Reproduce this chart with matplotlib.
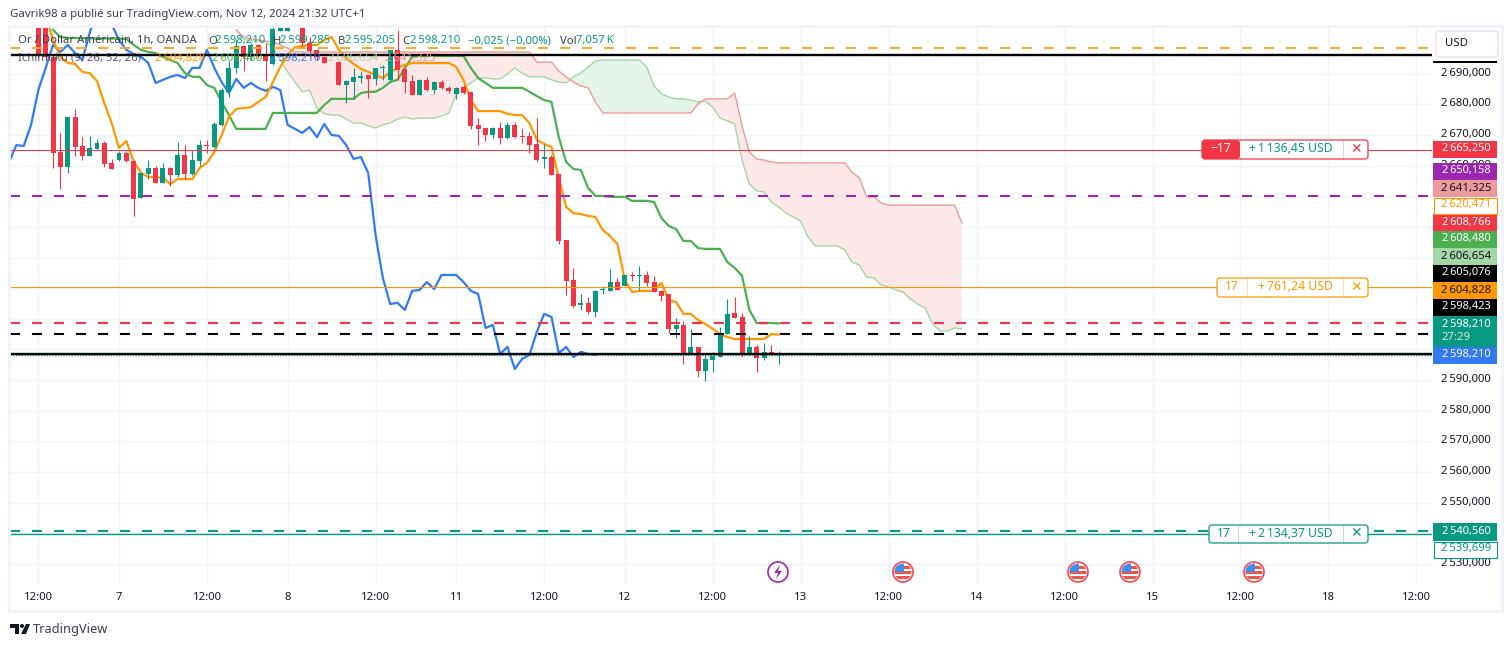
import numpy as np
import matplotlib
matplotlib.use("Agg")
import matplotlib.pyplot as plt
from matplotlib.patches import Rectangle, Circle, Polygon, FancyBboxPatch
from matplotlib.transforms import ScaledTranslation

plt.rcParams['font.family'] = ['Noto Sans', 'DejaVu Sans']
plt.rcParams['lines.scale_dashes'] = False

# bougies 1h, premiere bougie visible = index 4
candle_start = 4
opens = [2708, 2708, 2695.5, 2664.4, 2659.5, 2675.9, 2666.4, 2663.1, 2665.4, 2667.4, 2660.9, 2661.8, 2664.1, 2661.5,
         2649.4, 2657.3, 2659.2, 2654.3, 2659.2, 2657.0, 2663.5, 2657.3, 2661.5, 2666.7, 2666.1, 2673.3, 2684.1, 2691.9,
         2699.1, 2695.5, 2699.4, 2696.1, 2693.2, 2704.0, 2704.0, np.nan, 2708, 2700.0, 2697.8, 2695.5, np.nan, 2693.8,
         2686.3, 2687.3, 2688.6, 2689.6, 2688.3, 2692.0, 2688.0, 2697.8, 2691.6, 2687.6, 2683.1, 2688.0, 2684.7, 2687.3,
         2685.4, 2683.4, 2685.7, 2684.1, 2673.3, 2672.3, 2670.0, 2672.3, 2669.0, 2673.3, 2669.5, 2669.7, 2667.1, 2662.2,
         2662.8, 2657.3, 2635.7, 2622.7, 2614.5, 2615.2, 2612.2, 2619.4, 2619.1, 2622.0, 2620.7, 2624.3, 2624.1, 2624.3,
         2622.0, 2619.1, 2618.1, 2606.7, 2608.0, 2598.2, 2600.8, 2592.9, 2596.5, 2597.5, 2605.0, 2611.9, 2610.6, 2598.2,
         2600.8, 2597.2, 2599.2, 2598.1]
highs = [2710, 2710, 2696, 2670.7, 2675.9, 2678.5, 2669.3, 2669.7, 2668.7, 2668.1, 2662.2, 2664.8, 2664.8, 2661.8,
         2657.6, 2661.8, 2659.9, 2660.9, 2659.5, 2667.7, 2666.7, 2665.1, 2668.4, 2668.4, 2674.2, 2685.4, 2694.2, 2701.0,
         2699.4, 2700.0, 2699.7, 2700.0, 2705.3, 2706, 2706, np.nan, 2710, 2702, 2698, 2695.5, np.nan, 2694.2,
         2688.0, 2691.9, 2690.9, 2689.6, 2691.9, 2692.9, 2697.8, 2704.3, 2691.9, 2689.6, 2688.3, 2689.0, 2687.6, 2688.0,
         2686.0, 2685.7, 2686.3, 2684.4, 2675.6, 2672.3, 2672.6, 2674.2, 2674.2, 2674.2, 2672.0, 2671.0, 2675.6, 2667.1,
         2663.5, 2657.3, 2635.7, 2626.6, 2618.1, 2617.1, 2619.4, 2620.7, 2626.2, 2623.3, 2624.3, 2625.3, 2627.2, 2625.6,
         2624.0, 2619.1, 2618.1, 2610.2, 2609.3, 2606.7, 2600.8, 2598.8, 2599.2, 2607.3, 2616.4, 2617.1, 2611.9, 2604.4,
         2601.4, 2602.1, 2601.4, 2599.5]
lows = [2695, 2695, 2659.3, 2652.4, 2657.6, 2663.1, 2661.8, 2663.1, 2665.4, 2659.5, 2658.9, 2661.5, 2661.2, 2643.6,
        2649.4, 2655.6, 2654.3, 2654.3, 2653.3, 2656.3, 2655.6, 2657.0, 2659.9, 2664.1, 2665.8, 2673.0, 2682.4, 2690.2,
        2690.9, 2694.5, 2695.1, 2687.6, 2692.9, 2703.8, 2703.8, np.nan, 2699, 2695.5, 2694.5, 2693.5, np.nan, 2686.3,
        2680.4, 2681.8, 2687.0, 2682.1, 2686.3, 2688.0, 2687.6, 2688.0, 2683.7, 2683.1, 2683.1, 2684.4, 2683.4, 2685.0,
        2683.7, 2681.8, 2683.4, 2672.0, 2666.7, 2668.0, 2669.0, 2667.1, 2668.7, 2669.0, 2667.4, 2664.1, 2661.2, 2659.2,
        2657.0, 2634.4, 2617.8, 2613.5, 2612.9, 2611.6, 2610.6, 2618.1, 2619.1, 2619.4, 2620.7, 2622.3, 2619.4, 2620.7,
        2618.7, 2615.8, 2605.4, 2603.7, 2595.2, 2598.2, 2591.0, 2589.7, 2592.6, 2597.5, 2605.0, 2610.2, 2597.5, 2598.2,
        2592.6, 2596.5, 2598.2, 2595.2]
closes = [2696.1, 2695.5, 2664.2, 2659.5, 2675.9, 2666.2, 2663.1, 2665.8, 2667.4, 2660.5, 2658.9, 2664.1, 2661.5, 2649.1,
          2657.6, 2659.2, 2654.3, 2659.2, 2657.0, 2663.5, 2657.3, 2661.8, 2666.7, 2666.4, 2673.6, 2684.7, 2691.9, 2699.1,
          2695.5, 2699.4, 2696.4, 2694.2, 2704.6, 2707, 2707, np.nan, 2700.0, 2697.4, 2695.5, 2693.5, np.nan, 2686.3,
          2687.6, 2689.0, 2689.3, 2688.3, 2691.9, 2692.2, 2697.8, 2691.2, 2687.3, 2683.1, 2688.0, 2684.7, 2687.3, 2685.4,
          2684.4, 2685.4, 2683.7, 2673.0, 2672.0, 2670.0, 2672.3, 2669.0, 2673.3, 2669.3, 2669.3, 2666.7, 2661.8, 2662.8,
          2657.0, 2635.4, 2622.3, 2614.2, 2615.2, 2612.2, 2619.1, 2619.7, 2622.0, 2619.4, 2624.3, 2624.1, 2624.3, 2621.7,
          2618.7, 2617.4, 2606.7, 2608.0, 2598.2, 2600.8, 2592.9, 2596.9, 2597.8, 2605.4, 2611.6, 2610.2, 2598.2, 2600.8,
          2597.2, 2599.2, 2598.2, 2598.21]

# ichimoku
tenkan_start = 5
tenkan = [2709.2, 2701.0, 2695.5, 2693.5, 2693.2, 2690.6, 2690.2, 2687.6, 2680.4, 2673.9, 2665.8, 2668.0, 2661.5, 2657.6,
          2656.3, 2656.3, 2656.0, 2654.0, 2655.6, 2655.6, 2655.6, 2659.2, 2660.9, 2664.4, 2670.0, 2675.9, 2678.5, 2678.8,
          2679.1, 2680.8, 2682.4, 2687.3, 2692.2, 2696.1, 2698.7, 2699.1, 2699.4, 2699.4, 2701.0, 2702.0, 2697.8, 2695.1,
          2693.2, 2691.6, 2690.6, 2689.6, 2688.6, 2690.6, 2691.9, 2692.9, 2693.5, 2693.5, 2693.5, 2693.5, 2693.5, 2693.5,
          2692.2, 2688.0, 2681.4, 2677.8, 2677.8, 2677.8, 2677.8, 2676.9, 2676.5, 2676.5, 2673.9, 2668.4, 2667.1, 2666.1,
          2656.0, 2646.5, 2644.5, 2644.2, 2643.6, 2643.2, 2639.0, 2637.0, 2634.4, 2622.7, 2618.7, 2619.1, 2619.1, 2619.1,
          2621.7, 2616.1, 2615.5, 2611.6, 2611.6, 2609.6, 2608.3, 2606.7, 2605.0, 2604.0, 2603.4, 2603.4, 2603.4, 2603.4,
          2603.4, 2605.0, 2604.828]

kijun_start = 6
kijun = [2704.3, 2702.0, 2701.7, 2701.7, 2701.6, 2701.6, 2701.5, 2701.5, 2701.5, 2701.4, 2701.4, 2699.4, 2697.8, 2697.1,
         2696.8, 2695.5, 2694.5, 2693.5, 2690.2, 2689.0, 2689.0, 2686.3, 2685.4, 2680.8, 2676.5, 2672.0, 2672.0, 2672.0,
         2672.0, 2672.0, 2677.2, 2677.2, 2677.2, 2677.2, 2677.2, 2677.2, 2677.2, 2679.8, 2681.8, 2681.8, 2681.8, 2681.8,
         2683.7, 2684.1, 2684.1, 2685.4, 2687.3, 2688.0, 2691.9, 2695.5, 2695.8, 2695.8, 2695.8, 2695.8, 2695.8, 2695.8,
         2695.8, 2691.9, 2688.6, 2687.0, 2685.4, 2685.4, 2685.4, 2685.4, 2685.4, 2684.1, 2682.7, 2681.4, 2680.8, 2669.3,
         2661.2, 2658.9, 2658.6, 2652.7, 2650.1, 2650.1, 2649.8, 2649.8, 2649.8, 2648.5, 2648.5, 2648.5, 2648.1, 2642.9,
         2640.3, 2639.3, 2635.4, 2635.4, 2633.1, 2632.8, 2632.8, 2632.8, 2628.5, 2626.6, 2624.0, 2612.9, 2608.6, 2608.6,
         2608.6, 2608.48]

chikou_start = 0
chikou = [2661.2, 2666.7, 2666.4, 2673.3, 2684.7, 2691.9, 2699.4, 2697.1, 2699.4, 2696.8, 2694.5, 2703.3, 2710.8, 2710.8,
          2706.2, 2701.0, 2697.8, 2696.4, 2695.5, 2693.5, 2687.0, 2688.0, 2689.0, 2689.6, 2688.6, 2691.9, 2691.9, 2697.8,
          2691.9, 2687.3, 2683.7, 2688.3, 2685.4, 2687.0, 2685.4, 2684.4, 2685.7, 2684.7, 2673.3, 2672.0, 2670.7, 2672.6,
          2669.3, 2673.6, 2670.0, 2669.7, 2666.7, 2662.2, 2662.8, 2657.6, 2637.4, 2623.3, 2614.8, 2615.2, 2612.9, 2619.1,
          2619.4, 2622.0, 2619.7, 2624.3, 2624.3, 2624.3, 2622.0, 2619.1, 2618.1, 2607.0, 2608.0, 2598.5, 2600.8, 2593.6,
          2596.9, 2598.2, 2605.7, 2611.6, 2610.6, 2598.8, 2600.8, 2597.5, 2599.2, 2598.5, 2598.21]

span_start = 31
span_a = [2704.3, 2701.3, 2700.7, 2700.7, 2700.4, 2698.4, 2694.5, 2690.6, 2687.3, 2684.1, 2684.7, 2678.8, 2676.9, 2676.5,
          2676.5, 2675.2, 2673.9, 2673.9, 2673.0, 2672.3, 2673.3, 2673.9, 2675.2, 2675.9, 2675.2, 2675.5, 2675.5, 2675.5,
          2676.2, 2677.2, 2683.1, 2685.4, 2687.0, 2688.6, 2688.6, 2688.3, 2688.3, 2689.9, 2691.9, 2690.2, 2689.0, 2689.0,
          2689.0, 2688.0, 2687.3, 2687.0, 2689.0, 2690.2, 2692.2, 2694.2, 2694.5, 2694.5, 2694.5, 2694.5, 2694.5, 2694.5,
          2692.2, 2686.0, 2683.4, 2682.4, 2681.8, 2681.8, 2681.4, 2680.8, 2681.1, 2679.1, 2675.5, 2674.6, 2673.6, 2661.8,
          2654.0, 2651.7, 2651.4, 2648.1, 2646.5, 2644.5, 2643.2, 2641.9, 2636.7, 2633.8, 2633.8, 2633.8, 2633.8, 2632.5,
          2628.5, 2627.6, 2623.6, 2623.3, 2621.0, 2620.4, 2619.4, 2618.7, 2616.4, 2614.8, 2613.5, 2608.3, 2606.0, 2606.0,
          2607.0, 2606.654]
span_b = [2704.3, 2702.0, 2701.4, 2701.0, 2700.7, 2700.4, 2699.4, 2698.4] + [2697.1] * 33 + [
          2693.8, 2693.8, 2693.8, 2690.9, 2689.0, 2687.3, 2686.0, 2685.4, 2680.8] + [2677.2] * 13 + [
          2680.1, 2681.8, 2681.8, 2681.8, 2681.8, 2683.7, 2673.0, 2664.4, 2662.2, 2661.8, 2661.2] + [2660.9] * 10 + [
          2657.9, 2656.0, 2649.8, 2649.8, 2647.8] + [2647.1] * 10 + [2641.325]

# niveaux horizontaux
orange_top = 2698.4
black_top = 2696.1
purple_level = 2650.158
short_entry = 2665.250
long_entry = 2620.471
red_level = 2608.766
black_mid = 2605.076
black_low = 2598.423
last_close = 2598.210
target_dash = 2540.560
target_solid = 2539.699

# axes
x_tick_pos = [4, 15, 27, 38, 50, 61, 73, 84, 96, 108, 120, 132, 144, 156, 168, 180, 192]
x_tick_labels = ['12:00', '7', '12:00', '8', '12:00', '11', '12:00', '12', '12:00', '13',
                 '12:00', '14', '12:00', '15', '12:00', '18', '12:00']
y_ticks = list(range(2530, 2700, 10))
# ces graduations restent sous les etiquettes de prix
y_hidden = [2540, 2600, 2610, 2620, 2630, 2640, 2650]

GREEN = '#089981'
RED = '#f23645'
ORANGE = '#ff9800'
KIJUN = '#4caf50'
BLUE = '#3179f5'
PURPLE = '#9c27b0'
INK = '#131722'
GRID = '#f0f3fa'
FS = 8.15

fig = plt.figure(figsize=(15.12, 6.47), dpi=100)
ax = fig.add_axes([10 / 1512, (647 - 584) / 647, 1422 / 1512, 557 / 647])
ax.set_xlim(0.13, 194.13)
ax.set_ylim(2523.4, 2705.26)
for s in ax.spines.values():
    s.set_visible(False)


def fr_price(v):
    return f"2\u2009{v - 2000:03.0f},000"


ax.yaxis.tick_right()
ax.set_yticks(y_ticks)
ax.set_yticklabels(['' if v in y_hidden else fr_price(v) for v in y_ticks], fontsize=FS, color=INK)
ax.set_xticks(x_tick_pos)
ax.set_xticklabels(x_tick_labels, fontsize=FS, color=INK)
ax.tick_params(axis='both', length=0)
ax.tick_params(axis='y', pad=6.5)
ax.tick_params(axis='x', pad=6)
ax.grid(True, color=GRID, lw=1)
ax.set_axisbelow(True)
# les libelles de prix sont 2 px au-dessus de la grille
up = ScaledTranslation(0, 1.44 / 72, fig.dpi_scale_trans)
for lab in ax.get_yticklabels():
    lab.set_transform(lab.get_transform() + up)

# nuage
xs = np.arange(span_start, span_start + len(span_a))
a = np.array(span_a)
b = np.array(span_b)
ax.fill_between(xs, a, b, where=a >= b, interpolate=True, color='#e6f3e8', lw=0, zorder=1)
ax.fill_between(xs, a, b, where=a < b, interpolate=True, color='#fce8e8', lw=0, zorder=1)
ax.plot(xs, a, color='#a5d6a7', lw=1, zorder=2)
ax.plot(xs, b, color='#ef9a9a', lw=1, zorder=2)

# lignes ichimoku
ax.plot(np.arange(chikou_start, chikou_start + len(chikou)), chikou, color=BLUE, lw=1.6, zorder=3)
ax.plot(np.arange(kijun_start, kijun_start + len(kijun)), kijun, color=KIJUN, lw=1.6, zorder=3)
ax.plot(np.arange(tenkan_start, tenkan_start + len(tenkan)), tenkan, color=ORANGE, lw=1.6, zorder=3)

# bougies
o = np.array(opens)
h = np.array(highs)
l = np.array(lows)
c = np.array(closes)
ix = np.arange(candle_start, candle_start + len(o))
ok = ~np.isnan(o)
cols = np.where(c >= o, GREEN, RED)
ax.vlines(ix[ok], l[ok], h[ok], colors=cols[ok], lw=0.8, zorder=4)
ax.bar(ix[ok], np.maximum(np.abs(c - o)[ok], 0.35), bottom=np.minimum(o, c)[ok], width=0.68,
       color=cols[ok], lw=0, zorder=4)

# niveaux
dash = (0, (7.2, 8.64))
ax.axhline(orange_top, color='#ffa726', lw=1.5, ls=dash, zorder=5)
ax.axhline(black_top, color='black', lw=1.7, zorder=5)
ax.axhline(purple_level, color=PURPLE, lw=1.5, ls=dash, zorder=5)
ax.axhline(short_entry, color=RED, lw=0.75, zorder=5)
ax.axhline(long_entry, color=ORANGE, lw=0.75, zorder=5)
ax.axhline(red_level, color=RED, lw=1.5, ls=dash, zorder=5)
ax.axhline(black_mid, color='black', lw=1.5, ls=dash, zorder=5)
ax.axhline(last_close, color=GREEN, lw=0.8, ls=(0, (1, 1)), zorder=5)
ax.axhline(black_low, color='black', lw=1.7, zorder=5)
ax.axhline(target_dash, color=GREEN, lw=1.5, ls=dash, zorder=5)
ax.axhline(target_solid, color=GREEN, lw=1, zorder=5)

# couche en pixels pour l'interface : entete, etiquettes, icones
ov = fig.add_axes([0, 0, 1, 1])
ov.set_xlim(0, 1512)
ov.set_ylim(647, 0)
ov.axis('off')
ov.patch.set_alpha(0)
ov.add_patch(Rectangle((9, 26), 1493, 585, fill=False, ec=GRID, lw=2))

ov.text(10, 15, 'Gavrik98 a publié sur TradingView.com, Nov 12, 2024 21:32 UTC+1', fontsize=8.2,
        color='#3a3e4a', va='center')
ov.text(18, 41, 'Or / Dollar Américain, 1h, OANDA', fontsize=FS, color='#3a3e4a', va='center')
for x0, t in [(208, 'O'), (273, 'H'), (338, 'B'), (402, 'C'), (560, 'Vol')]:
    ov.text(x0, 41, t, fontsize=FS, color='#3a3e4a', va='center')
for x0, t in [(215, '2\u2009598,210'), (280, '2\u2009599,285'), (345, '2\u2009595,205'), (410, '2\u2009598,210'),
              (468, '\u22120,025 (\u22120,00%)'), (576, '7,057\u2009K')]:
    ov.text(x0, 41, t, fontsize=FS, color=GREEN, va='center')
ov.text(18, 58, 'Ichimoku (9, 26, 52, 26)', fontsize=FS, color='#3a3e4a', alpha=0.85, va='center')
for x0, t, col in [(155, '2\u2009604,828', ORANGE), (212, '2\u2009608,480', KIJUN), (270, '2\u2009598,210', BLUE),
                   (328, '2\u2009606,654', '#a5d6a7'), (385, '2\u2009641,325', '#ef9a9a')]:
    ov.text(x0, 58, t, fontsize=FS, color=col, va='center')

# etiquettes de prix
tags = [(141, 158, '2\u2009665,250', RED, 'white'), (163, 180, '2\u2009650,158', PURPLE, 'white'),
        (180, 197, '2\u2009641,325', '#ef9a9a', INK), (214, 231, '2\u2009608,766', RED, 'white'),
        (231, 248, '2\u2009608,480', KIJUN, 'white'), (248, 265, '2\u2009606,654', '#a5d6a7', INK),
        (265, 282, '2\u2009605,076', 'black', 'white'), (282, 299, '2\u2009604,828', ORANGE, INK),
        (299, 316, '2\u2009598,423', 'black', 'white'), (347, 364, '2\u2009598,210', BLUE, 'white'),
        (523, 541, '2\u2009540,560', GREEN, 'white')]
for y0, y1, t, bg, fg in tags:
    ov.add_patch(Rectangle((1433, y0), 64, y1 - y0, fc=bg, ec='none', zorder=6))
    ov.text(1466, (y0 + y1) / 2 - 0.5, t, color=fg, fontsize=7.9 if fg == 'white' else FS,
            fontweight='bold' if fg == 'white' else 'normal', ha='center', va='center', zorder=7)
ov.add_patch(Rectangle((1433.5, 197.5), 63, 16, fc='white', ec=ORANGE, lw=0.8, zorder=6))
ov.text(1466, 205, '2\u2009620,471', color=ORANGE, fontsize=FS, ha='center', va='center', zorder=7)
ov.add_patch(Rectangle((1433.5, 541.5), 63, 16, fc='white', ec=GREEN, lw=0.8, zorder=6))
ov.text(1466, 549, '2\u2009539,699', color=GREEN, fontsize=FS, ha='center', va='center', zorder=7)
ov.add_patch(Rectangle((1433, 316), 64, 31, fc=GREEN, ec='none', zorder=6))
ov.text(1466, 324, '2\u2009598,210', color='white', fontsize=7.9, fontweight='bold', ha='center', va='center', zorder=7)
ov.text(1441, 338, '27:29', color='#c9eadf', fontsize=FS, ha='left', va='center', zorder=7)
ov.add_patch(Rectangle((1433, 61), 64, 2, fc='black', ec='none', zorder=6))

# bouton USD
ov.add_patch(FancyBboxPatch((1439, 34), 56, 20, boxstyle='round,pad=3,rounding_size=4', fc='white', ec='#e0e3eb',
                            lw=1, zorder=6))
ov.text(1445, 44, 'USD', fontsize=8.2, color=INK, va='center', zorder=7)


def order_box(x0, y0, y1, sep, qty, qty_col, qty_bg, pnl, pnl_col, col):
    ov.add_patch(FancyBboxPatch((x0 + 2, y0 + 2), 1368 - x0 - 4, y1 - y0 - 4, boxstyle='round,pad=2,rounding_size=3',
                                fc='white', ec=col, lw=0.9, zorder=6))
    if qty_bg:
        ov.add_patch(FancyBboxPatch((x0 + 2, y0 + 2), sep - x0 - 3, y1 - y0 - 4,
                                    boxstyle='round,pad=2,rounding_size=3', fc=qty_bg, ec=col, lw=0, zorder=6))
    else:
        ov.plot([sep, sep], [y0, y1], color=col, lw=0.5, alpha=0.4, zorder=7)
    ov.plot([1343, 1343], [y0, y1], color=col, lw=0.5, alpha=0.4, zorder=7)
    ym = (y0 + y1) / 2
    ov.text((x0 + sep) / 2, ym - 0.5, qty, color=qty_col, fontsize=8.8, ha='center', va='center', zorder=7)
    ov.text(1291 if col != ORANGE else 1295, ym - 0.5, pnl, color=pnl_col, fontsize=8.8, ha='center', va='center', zorder=7)
    ov.text(1356, ym - 0.5, '\u2715', color=col, fontsize=10, ha='center', va='center', zorder=7,
            family='DejaVu Sans')


order_box(1202, 140, 159, 1239, '\u221217', 'white', RED, '+\u20091\u2009136,45 USD', GREEN, RED)
order_box(1217, 278, 297, 1247, '17', ORANGE, None, '+\u2009761,24 USD', ORANGE, ORANGE)
order_box(1209, 525, 543, 1238, '17', GREEN, None, '+\u20092\u2009134,37 USD', GREEN, GREEN)

# icones evenements
ov.add_patch(Circle((778, 572), 10, fc='white', ec=PURPLE, lw=1.2, zorder=6))
ov.add_patch(Polygon([(780, 565), (774, 573), (778, 573), (776, 579), (782, 571), (778, 571)], fc=PURPLE, ec='none',
                     zorder=7))
for fx in [903, 1078, 1130, 1254]:
    clip = Circle((fx, 572), 8.5, transform=ov.transData)
    ov.add_patch(Circle((fx, 572), 10, fc='white', ec='#f4515c', lw=1.3, zorder=6))
    for sy in [566, 571, 576]:
        r = Rectangle((fx - 9, sy), 18, 2.6, fc='#ef5350', ec='none', zorder=7)
        ov.add_patch(r)
        r.set_clip_path(clip)
    r = Rectangle((fx - 9, 563), 9.5, 8.5, fc='#3d8fe8', ec='none', zorder=8)
    ov.add_patch(r)
    r.set_clip_path(clip)

# logo bas de page
ov.add_patch(Polygon([(10, 624), (19, 624), (19, 634), (14.5, 634), (14.5, 628), (10, 628)], fc='#131722', ec='none'))
ov.add_patch(Circle((22, 626), 2, fc='#131722', ec='none'))
ov.add_patch(Polygon([(26, 624), (30, 624), (26, 634), (21, 634)], fc='#131722', ec='none'))
ov.text(33, 629.5, 'TradingView', fontsize=9.2, color='#3a3e4a', va='center')

fig.savefig('out.png', dpi=100)
